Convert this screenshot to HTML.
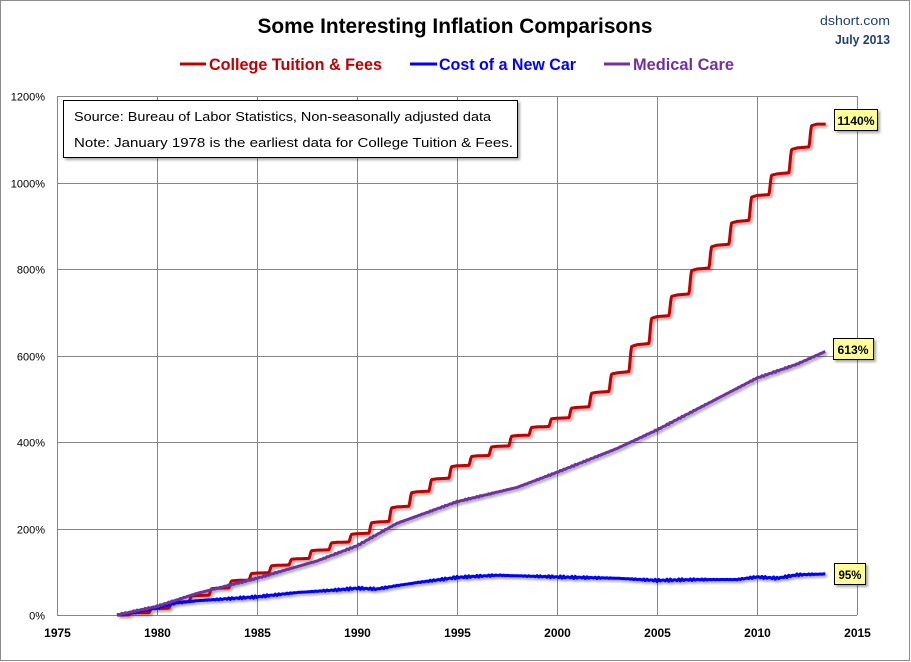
<!DOCTYPE html>
<html><head><meta charset="utf-8"><style>
html,body{margin:0;padding:0;background:#fff}
svg{display:block;font-family:"Liberation Sans",sans-serif}
</style></head><body>
<svg id="s" width="911" height="662" viewBox="0 0 911 662" xmlns="http://www.w3.org/2000/svg">
<defs>
<filter id="sh" x="-10%" y="-10%" width="130%" height="130%"><feDropShadow dx="2" dy="2" stdDeviation="1.2" flood-color="#000" flood-opacity="0.35"/></filter>
</defs>
<rect x="0.5" y="0.5" width="909" height="660" fill="#fff" stroke="#8c8c8c"/>
<text x="455" y="33" text-anchor="middle" font-size="21" font-weight="bold" textLength="395" lengthAdjust="spacingAndGlyphs">Some Interesting Inflation Comparisons</text>
<text x="890" y="25" text-anchor="end" font-size="13" fill="#1f3f6f" textLength="70" lengthAdjust="spacingAndGlyphs">dshort.com</text>
<text x="890" y="44" text-anchor="end" font-size="13" fill="#1f3f6f" font-weight="bold" textLength="55" lengthAdjust="spacingAndGlyphs">July 2013</text>
<line x1="180" y1="64" x2="206" y2="64" stroke="#c00000" stroke-width="3"/>
<text x="209" y="70" font-size="17" font-weight="bold" fill="#c00000" textLength="173" lengthAdjust="spacingAndGlyphs">College Tuition &amp; Fees</text>
<line x1="410" y1="64" x2="437" y2="64" stroke="#0000ff" stroke-width="3"/>
<text x="439" y="70" font-size="17" font-weight="bold" fill="#0000ff" textLength="137" lengthAdjust="spacingAndGlyphs">Cost of a New Car</text>
<line x1="604" y1="64" x2="630" y2="64" stroke="#7030a0" stroke-width="3"/>
<text x="633" y="70" font-size="17" font-weight="bold" fill="#7030a0" textLength="101" lengthAdjust="spacingAndGlyphs">Medical Care</text>
<g id="grid" stroke="#868686" stroke-width="1"></g>
<g id="ticks" font-size="11"></g>
<g id="series" filter="url(#sh)" fill="none" stroke-width="3" stroke-linejoin="round"></g>
<rect x="63.5" y="100.5" width="454" height="57" fill="#fff" stroke="#000" filter="url(#sh)"/>
<text x="74" y="121" font-size="13" textLength="417" lengthAdjust="spacingAndGlyphs">Source:  Bureau of Labor Statistics, Non-seasonally adjusted data</text>
<text x="74" y="147" font-size="13" textLength="439" lengthAdjust="spacingAndGlyphs">Note: January 1978 is the earliest data for College Tuition &amp; Fees.</text>
<g font-size="12" font-weight="bold">
<rect x="834.5" y="109.5" width="43" height="21" fill="#ffff99" stroke="#000" filter="url(#sh)"/>
<text x="856" y="125" text-anchor="middle" textLength="37" lengthAdjust="spacingAndGlyphs">1140%</text>
<rect x="833.5" y="338.5" width="40" height="21" fill="#ffff99" stroke="#000" filter="url(#sh)"/>
<text x="853" y="354" text-anchor="middle" textLength="31" lengthAdjust="spacingAndGlyphs">613%</text>
<rect x="834.5" y="563.5" width="31" height="21" fill="#ffff99" stroke="#000" filter="url(#sh)"/>
<text x="850" y="579" text-anchor="middle" textLength="23" lengthAdjust="spacingAndGlyphs">95%</text>
</g>
</svg>
<script>
var NS="http://www.w3.org/2000/svg";
function X(y){return 57+(y-1975)*20}
function Y(v){return 615-v*519/1200}
function el(t,a,p,txt){var e=document.createElementNS(NS,t);for(var k in a)e.setAttribute(k,a[k]);if(txt!=null)e.textContent=txt;document.getElementById(p).appendChild(e);return e}
for(var v=0;v<=1200;v+=200){var y=Math.round(Y(v))+0.5;el("line",{x1:57,x2:857,y1:y,y2:y},"grid");el("text",{x:45,y:y+4,"text-anchor":"end"},"ticks",v+"%")}
for(var yr=1975;yr<=2015;yr+=5){var x=X(yr)+0.5;el("line",{x1:x,x2:x,y1:96,y2:615},"grid");el("text",{x:x,y:637,"text-anchor":"middle","font-weight":"bold","font-size":"12"},"ticks",yr)}
function interp(pts,t){for(var i=0;i<pts.length-1;i++){if(t<=pts[i+1][0]){var a=pts[i],b=pts[i+1],f=(t-a[0])/(b[0]-a[0]);return a[1]+f*(b[1]-a[1])}}return pts[pts.length-1][1]}
var lv=[0,5,15,30,45,62,80,97,115,130,150,168,188,215,250,285,315,345,368,390,415,435,455,480,515,560,625,690,740,800,855,910,970,1020,1080,1135,1135];
function tu(t){var yi=Math.floor(t)-1978,fr=t-Math.floor(t);var b=lv[yi],n=lv[yi+1],dlt=n-b;
var s=Math.min(1,Math.max(0,(fr-0.58)/0.16));s=s*s*(3-2*s);
return b+0.04*dlt*Math.min(fr/0.58,1)+0.9*dlt*s+0.06*dlt*Math.max(0,(fr-0.74)/0.26);}
var d="";for(var t=1978;t<=2013.45;t+=1/48){var v=tu(t);d+=(d?"L":"M")+X(t).toFixed(1)+","+Y(v).toFixed(1)}
el("path",{d:d,stroke:"#c00000"},"series");
var med=[[1978,0],[1980,20],[1982,50],[1985,85],[1988,125],[1990,160],[1992,212],[1995,262],[1998,295],[2000,330],[2003,385],[2005,428],[2008,500],[2010,548],[2012,580],[2013.45,610]];
var car=[[1978,0],[1979,8],[1980,18],[1981,28],[1982,33],[1985,42],[1987,52],[1989,58],[1990,62],[1991,60],[1992,68],[1993,75],[1995,87],[1997,92],[2000,88],[2003,85],[2005,80],[2007,82],[2009,82],[2010,88],[2011,85],[2012,93],[2013.45,95]];
function sp(pts,col,n){var d="";for(var t=1978;t<=2013.45;t+=1/12){var v=interp(pts,t)+n*Math.sin(t*37.1)*Math.sin(t*5.3);d+=(d?"L":"M")+X(t).toFixed(1)+","+Y(v).toFixed(1)}el("path",{d:d,stroke:col},"series")}
sp(car,"#0000ff",2.5);sp(med,"#7030a0",1.5);
</script>
</body></html>
